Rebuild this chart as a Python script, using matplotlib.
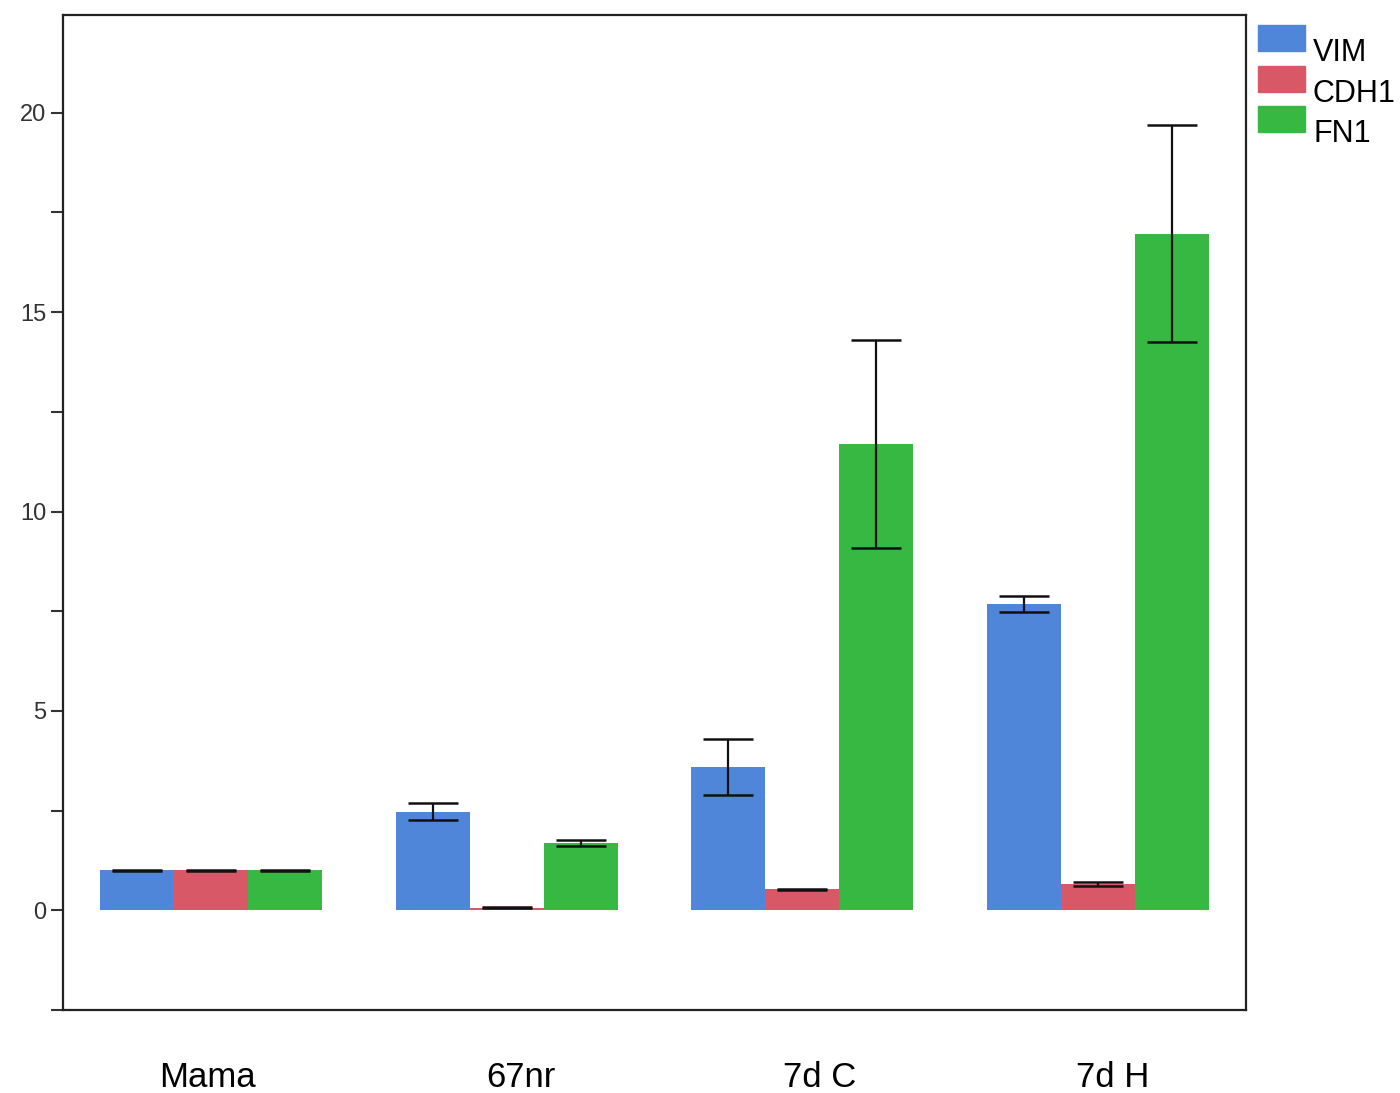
import numpy as np
import matplotlib.pyplot as plt
from matplotlib.patches import Rectangle
from matplotlib.ticker import MultipleLocator

plt.rcParams['font.family'] = ['Liberation Sans', 'DejaVu Sans']

groups = ['Mama', '67nr', '7d C', '7d H']
genes = ['VIM', 'CDH1', 'FN1']
colors = ['#4F86D9', '#D95868', '#36B843']

# mean expression and error per gene, one value per group
vim = [1.00, 2.47, 3.59, 7.68]
vim_err = [0.02, 0.21, 0.70, 0.21]
cdh1 = [1.00, 0.07, 0.53, 0.65]
cdh1_err = [0.02, 0.01, 0.01, 0.05]
fn1 = [1.00, 1.68, 11.69, 16.97]
fn1_err = [0.02, 0.08, 2.61, 2.73]

label_shift = [-0.01, 0.05, 0.06, 0.05]

W, H = 1400, 1093
fig = plt.figure(figsize=(W / 100, H / 100), dpi=100)
ax = fig.add_axes([63 / W, 1 - 1010 / H, (1246 - 63) / W, (1010 - 15) / H])

x = np.arange(len(groups))
w = 0.25
vals = [vim, cdh1, fn1]
errs = [vim_err, cdh1_err, fn1_err]
for k in range(3):
    pos = x + (k - 1) * w
    ax.bar(pos, vals[k], width=w, color=colors[k], label=genes[k], zorder=2)
    ax.errorbar(pos, vals[k], yerr=errs[k], fmt='none', ecolor='#111111',
                elinewidth=1.6, capsize=18, capthick=1.8, zorder=3)

ax.set_xlim(-0.5, 3.5)
ax.set_ylim(-2.5, 22.45)
ax.set_xticks(x + np.array(label_shift))
ax.set_xticklabels(groups, fontsize=25)
ax.tick_params(axis='x', length=0, pad=37)
ax.yaxis.set_major_locator(MultipleLocator(5))
ax.yaxis.set_minor_locator(MultipleLocator(2.5))
ax.tick_params(axis='y', which='both', length=9, width=1.5, color='#333333',
               labelsize=17, labelcolor='#333333', pad=3)
for s in ax.spines.values():
    s.set_linewidth(1.6)
    s.set_color('#222222')

# legend outside the axes, text sits a bit lower than its swatch
for i, (g, c) in enumerate(zip(genes, colors)):
    top = 25 + 40.5 * i
    fig.add_artist(Rectangle((1258 / W, 1 - (top + 26) / H), 47 / W, 26 / H,
                             transform=fig.transFigure, color=c))
    fig.text(1313 / W, 1 - (top + 28) / H, g, fontsize=22, va='center')

fig.savefig('out.png', dpi=100)
